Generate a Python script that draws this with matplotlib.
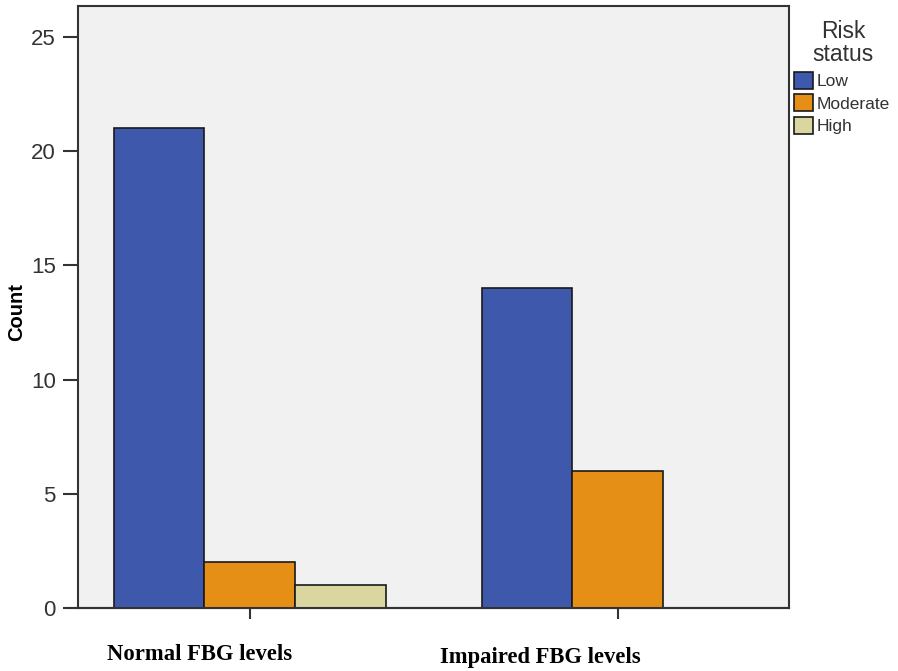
import numpy as np
import matplotlib.pyplot as plt
from matplotlib.patches import Patch
from matplotlib.lines import Line2D

plt.rcParams['font.family'] = ['Liberation Sans', 'DejaVu Sans']

groups = ['Normal FBG levels', 'Impaired FBG levels']
risk = ['Low', 'Moderate', 'High']
counts = {
    'Low': [21, 14],
    'Moderate': [2, 6],
    'High': [1, 0],
}
colors = ['#3E58AC', '#E68F16', '#D9D6A0']

fig = plt.figure(figsize=(8.98, 6.71), dpi=100)
ax = fig.add_axes([0.0869, 0.0939, 0.7917, 0.8971])
ax.set_facecolor('#F1F1F1')

x = np.arange(len(groups))
w = 0.247
for i, r in enumerate(risk):
    vals = np.array(counts[r])
    pos = x + (i - 1) * w
    keep = vals > 0
    ax.bar(pos[keep], vals[keep], width=w, color=colors[i],
           edgecolor='#1a1a1a', linewidth=1.2, zorder=3)

ax.set_xlim(-0.467, 1.465)
ax.set_ylim(0, 26.35)
ax.set_yticks([0, 5, 10, 15, 20, 25])
ax.tick_params(axis='y', direction='out', length=11, width=1.5, color='#333333',
               labelsize=16, labelcolor='#333333', pad=5)
ax.tick_params(axis='x', direction='out', length=8, width=1.5, color='#333333',
               labelbottom=False)
ax.set_xticks(x)
for s in ax.spines.values():
    s.set_color('#333333')
    s.set_linewidth(1.5)

# bottom axis line runs a little past the left spine
ax.add_line(Line2D([-0.016, 1], [0, 0], transform=ax.transAxes, color='#333333',
                   linewidth=1.5, clip_on=False, zorder=5))

fig.text(17 / 898, 1 - 312 / 671, 'Count', rotation=90, ha='center', va='center',
         fontsize=14.5, fontweight='bold')

# category labels sit below the axis, a bit left of the ticks
fig.text(200 / 898, 1 - 655 / 671, groups[0], ha='center', va='center',
         fontsize=16.3, fontweight='bold', family='Liberation Serif')
fig.text(540 / 898, 1 - 657 / 671, groups[1], ha='center', va='center',
         fontsize=16.3, fontweight='bold', family='Liberation Serif')

# legend title drawn on its own so it can sit higher than the entries
fig.text(843 / 898, 1 - 43 / 671, 'Risk\nstatus', ha='center', va='center',
         multialignment='center', fontsize=16.5, linespacing=0.95, color='#333333')

handles = [Patch(facecolor=c, edgecolor='#1a1a1a', linewidth=1.2) for c in colors]
leg = fig.legend(handles, risk, loc='upper center',
                 bbox_to_anchor=(842 / 898, 1 - 72 / 671), frameon=False,
                 fontsize=12.5, handlelength=1.1,
                 handleheight=1.1, handletextpad=0.2, labelspacing=0.3,
                 borderaxespad=0, borderpad=0)
for t in leg.get_texts():
    t.set_color('#333333')

fig.savefig('out.png', dpi=100)
